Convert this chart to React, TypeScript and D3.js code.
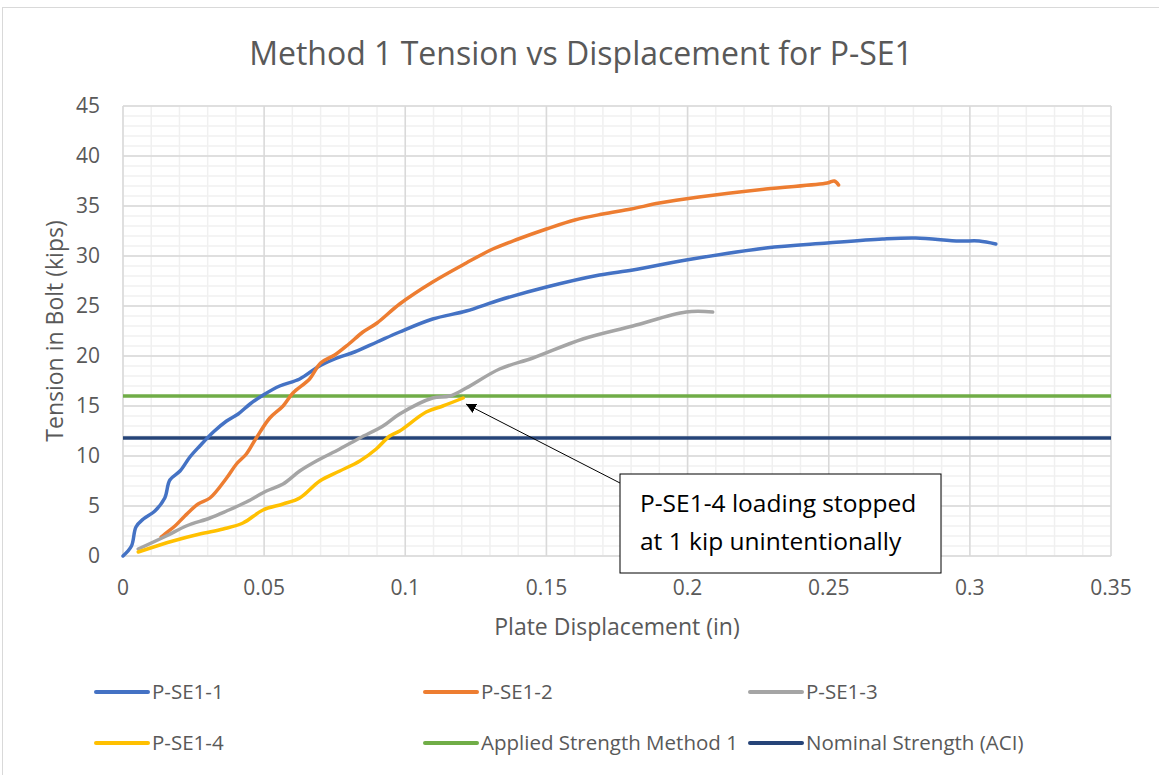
import React from 'react';
import * as d3 from 'd3';

type Pt = [number, number];

const seriesNames = ['P-SE1-1', 'P-SE1-2', 'P-SE1-3', 'P-SE1-4'];
const seriesColors = ['#4472C4', '#ED7D31', '#A5A5A5', '#FFC000'];

const pse1_1: Pt[] = [
  [0, 0], [0.003, 1], [0.0046, 2.9], [0.0072, 3.7], [0.0113, 4.5], [0.0148, 5.8], [0.0166, 7.6],
  [0.0202, 8.5], [0.0237, 9.9], [0.0272, 11], [0.032, 12.4], [0.0367, 13.5], [0.0408, 14.2],
  [0.045, 15.2], [0.0497, 16.1], [0.0555, 17], [0.0626, 17.7], [0.069, 18.9], [0.075, 19.7],
  [0.082, 20.4], [0.09, 21.4], [0.098, 22.4], [0.1097, 23.7], [0.1216, 24.5], [0.1334, 25.6],
  [0.15, 26.9], [0.1688, 28.1], [0.1806, 28.6], [0.1995, 29.6], [0.2277, 30.8], [0.2495, 31.3],
  [0.269, 31.7], [0.2808, 31.8], [0.2963, 31.5], [0.3033, 31.5], [0.3092, 31.2],
];
const pse1_2: Pt[] = [
  [0.0135, 1.9], [0.0148, 2.2], [0.0184, 3.0], [0.0219, 4.0], [0.0266, 5.2], [0.0308, 5.8],
  [0.0367, 7.8], [0.0402, 9.2], [0.0437, 10.2], [0.0472, 11.8], [0.052, 13.8], [0.0567, 15],
  [0.0602, 16.3], [0.0661, 17.7], [0.07, 19.3], [0.075, 20.1], [0.08, 21.2], [0.085, 22.4],
  [0.09, 23.3], [0.098, 25.2], [0.1097, 27.4], [0.1216, 29.3], [0.131, 30.7], [0.14, 31.7],
  [0.15, 32.7], [0.16, 33.6], [0.17, 34.2], [0.18, 34.7], [0.19, 35.3], [0.204, 35.9],
  [0.2277, 36.7], [0.2495, 37.3], [0.252, 37.5], [0.2535, 37.1],
];
const pse1_3: Pt[] = [
  [0.0054, 0.7], [0.0153, 2.0], [0.0224, 3.0], [0.0308, 3.8], [0.0367, 4.5], [0.0437, 5.4],
  [0.0508, 6.5], [0.0567, 7.2], [0.0626, 8.5], [0.0685, 9.5], [0.0768, 10.7], [0.0839, 11.8],
  [0.0921, 13], [0.098, 14.2], [0.1097, 15.8], [0.1157, 16], [0.1216, 16.8], [0.1334, 18.7],
  [0.1452, 19.8], [0.1629, 21.7], [0.1806, 23], [0.1995, 24.4], [0.2089, 24.4],
];
const pse1_4: Pt[] = [
  [0.0054, 0.4], [0.0177, 1.5], [0.0272, 2.2], [0.0355, 2.7], [0.0425, 3.3], [0.0496, 4.6],
  [0.0567, 5.2], [0.0626, 5.8], [0.0697, 7.5], [0.0768, 8.5], [0.0839, 9.5], [0.0897, 10.7],
  [0.0945, 12], [0.098, 12.5], [0.1074, 14.4], [0.1133, 15.0], [0.1205, 15.8],
];
const seriesData = [pse1_1, pse1_2, pse1_3, pse1_4];

// constant strength lines
const refNames = ['Applied Strength Method 1', 'Nominal Strength (ACI)'];
const refColors = ['#70AD47', '#264478'];
const refValues = [16, 11.8];

const xTicks = [0, 0.05, 0.1, 0.15, 0.2, 0.25, 0.3, 0.35];
const yTicks = [0, 5, 10, 15, 20, 25, 30, 35, 40, 45];

const noteLines = ['P-SE1-4 loading stopped', 'at 1 kip unintentionally'];
const noteTarget: Pt = [0.1215, 15.2];

const W = 1159;
const H = 775;
const font = '"Open Sans", "Noto Sans", sans-serif';
const textColor = '#595959';

export default function App() {
  const x = d3.scaleLinear().domain([0, 0.35]).range([123, 1111]);
  const y = d3.scaleLinear().domain([0, 45]).range([556, 106]);

  const line = d3.line<Pt>()
    .x(d => x(d[0]))
    .y(d => y(d[1]))
    .curve(d3.curveCatmullRom.alpha(0.5));

  const minorX = d3.range(0, 0.3501, 0.01);
  const minorY = d3.range(0, 45.01, 1);

  const legendItems = [
    ...seriesNames.map((n, i) => ({ name: n, color: seriesColors[i] })),
    ...refNames.map((n, i) => ({ name: n, color: refColors[i] })),
  ];
  const legendCols = [96, 425, 750];
  const legendRows = [692, 743];

  // annotation box
  const boxX = 620, boxY = 474, boxW = 321, boxH = 99;
  const tipX = x(noteTarget[0]);
  const tipY = y(noteTarget[1]);

  return (
    <div style={{ position: 'absolute', left: 0, top: 0 }}>
      <svg width={W} height={H} style={{ display: 'block', background: '#fff' }}>
        <defs>
          <marker id="tri" viewBox="0 0 10 10" refX="10" refY="5" markerWidth="10" markerHeight="10"
            orient="auto-start-reverse" markerUnits="userSpaceOnUse">
            <path d="M0,0 L10,5 L0,10 Z" fill="#000" />
          </marker>
        </defs>
        <rect x={2.5} y={7.5} width={W + 10} height={H + 10} fill="#fff" stroke="#d9d9d9" strokeWidth={1} />

        <text x={581} y={65} textAnchor="middle" fontFamily={font} fontSize={32} fill={textColor}>
          Method 1 Tension vs Displacement for P-SE1
        </text>

        {/* minor grid */}
        {minorX.map((v, i) => (
          <line key={'mx' + i} x1={x(v)} x2={x(v)} y1={y(0)} y2={y(45)} stroke="#f0f0f0" strokeWidth={1.5} />
        ))}
        {minorY.map((v, i) => (
          <line key={'my' + i} x1={x(0)} x2={x(0.35)} y1={y(v)} y2={y(v)} stroke="#f0f0f0" strokeWidth={1.5} />
        ))}
        {/* major grid */}
        {xTicks.map((v, i) => (
          <line key={'gx' + i} x1={x(v)} x2={x(v)} y1={y(0)} y2={y(45)} stroke="#d9d9d9" strokeWidth={1.5} />
        ))}
        {yTicks.map((v, i) => (
          <line key={'gy' + i} x1={x(0)} x2={x(0.35)} y1={y(v)} y2={y(v)} stroke="#d9d9d9" strokeWidth={1.5} />
        ))}

        {/* tick labels */}
        {yTicks.map((v, i) => (
          <text key={'ty' + i} x={100} y={y(v) + 7} textAnchor="end" fontFamily={font} fontSize={21} fill={textColor}>
            {v}
          </text>
        ))}
        {xTicks.map((v, i) => (
          <text key={'tx' + i} x={x(v)} y={595} textAnchor="middle" fontFamily={font} fontSize={21} fill={textColor}>
            {v}
          </text>
        ))}

        <text x={617} y={635} textAnchor="middle" fontFamily={font} fontSize={23} fill={textColor}>
          Plate Displacement (in)
        </text>
        <text transform={`translate(63,${y(22.5)}) rotate(-90)`} textAnchor="middle" fontFamily={font} fontSize={23} fill={textColor}>
          Tension in Bolt (kips)
        </text>

        {/* reference lines */}
        {refValues.map((v, i) => (
          <line key={'ref' + i} x1={x(0)} x2={x(0.35)} y1={y(v)} y2={y(v)} stroke={refColors[i]} strokeWidth={3.5} />
        ))}

        {/* series */}
        {seriesData.map((s, i) => (
          <path key={'s' + i} d={line(s) || ''} fill="none" stroke={seriesColors[i]} strokeWidth={3.5}
            strokeLinejoin="round" strokeLinecap="round" />
        ))}

        {/* annotation */}
        <line x1={boxX} y1={boxY + 9} x2={tipX} y2={tipY} stroke="#000" strokeWidth={1} markerEnd="url(#tri)" />
        <rect x={boxX} y={boxY} width={boxW} height={boxH} fill="#fff" stroke="#000" strokeWidth={1} />
        {noteLines.map((t, i) => (
          <text key={'n' + i} x={boxX + 20} y={boxY + 38 + i * 38} fontFamily={font} fontSize={24.5} fill="#000">
            {t}
          </text>
        ))}

        {/* legend */}
        {legendItems.map((it, i) => {
          const lx = legendCols[i % 3];
          const ly = legendRows[Math.floor(i / 3)];
          return (
            <g key={'lg' + i}>
              <line x1={lx} x2={lx + 52} y1={ly} y2={ly} stroke={it.color} strokeWidth={4} strokeLinecap="round" />
              <text x={lx + 56} y={ly + 7} fontFamily={font} fontSize={20.5} fill={textColor}>{it.name}</text>
            </g>
          );
        })}
      </svg>
    </div>
  );
}
